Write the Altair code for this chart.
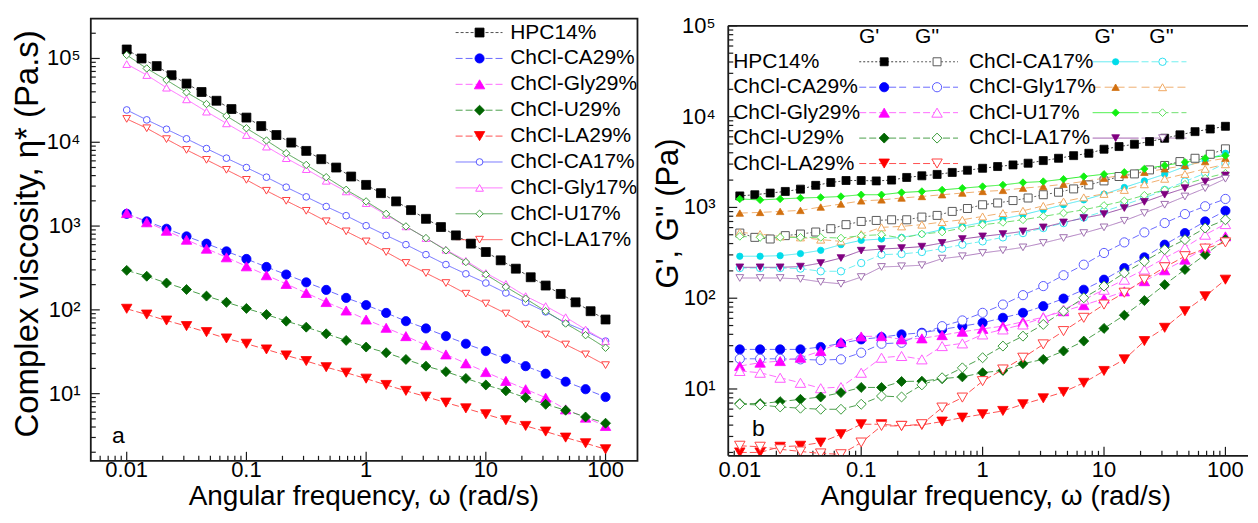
import altair as alt
import pandas as pd

FONT = "Liberation Sans"

# ---------------- frequency grids (rad/s) ----------------
freq8 = [0.01, 0.0133, 0.0178, 0.0237, 0.0316, 0.0422, 0.0562, 0.075, 0.1, 0.133, 0.178, 0.237,
         0.316, 0.422, 0.562, 0.75, 1, 1.33, 1.78, 2.37, 3.16, 4.22, 5.62, 7.5, 10, 13.3, 17.8,
         23.7, 31.6, 42.2, 56.2, 75, 100]
freq6 = [0.01, 0.0147, 0.0215, 0.0316, 0.0464, 0.0681, 0.1, 0.147, 0.215, 0.316, 0.464, 0.681,
         1, 1.47, 2.15, 3.16, 4.64, 6.81, 10, 14.7, 21.5, 31.6, 46.4, 68.1, 100]

samples = ["HPC14%", "ChCl-CA29%", "ChCl-Gly29%", "ChCl-U29%", "ChCl-LA29%",
           "ChCl-CA17%", "ChCl-Gly17%", "ChCl-U17%", "ChCl-LA17%"]

# tick labels
x_tick_vals = [0.01, 0.1, 1, 10, 100]
x_tick_labels = ["0.01", "0.1", "1", "10", "100"]
y_tick_vals = [10, 100, 1000, 10000, 100000]
y_tick_labels = ["10\u00b9", "10\u00b2", "10\u00b3", "10\u2074", "10\u2075"]

# ---------------- panel a: complex viscosity (Pa.s) ----------------
eta_HPC14 = [128000, 100000, 81100, 63100, 50100, 39800, 31300, 24900, 19700, 15600, 12200, 9910,
             7890, 6280, 4990, 3900, 3100, 2470, 1970, 1550, 1220, 973, 774, 617, 490, 390, 310,
             245, 195, 155, 123, 96.4, 76.7]
eta_CA29 = [1400, 1140, 929, 753, 617, 499, 405, 325, 264, 213, 173, 139, 114, 92.0, 73.3, 60.0,
            48.6, 39.4, 32.2, 26.1, 21.3, 17.3, 13.9, 11.3, 9.12]
eta_Gly29 = [1430, 1110, 879, 687, 537, 424, 331, 259, 204, 159, 124, 98.2, 76.7, 61.1, 48.6, 37.9,
             29.4, 23.0, 18.1, 14.2, 11.3, 8.95, 6.50, 5.18, 4.12]
eta_U29 = [296, 252, 209, 175, 146, 123, 104, 87.9, 73.3, 62.2, 51.8, 43.2, 36.0, 30.8, 25.6, 21.3,
           18.3, 15.2, 12.7, 10.8, 8.95, 7.46, 6.34, 5.27, 4.44]
eta_LA29 = [103, 87.9, 74.6, 64.0, 54.2, 45.6, 39.4, 33.7, 28.6, 24.5, 20.7, 17.8, 15.1, 12.7, 10.8,
            9.20, 7.82, 6.68, 5.68, 4.82, 4.12, 3.53, 2.99, 2.56, 2.17]
eta_CA17 = [24300, 18500, 14300, 11000, 8410, 6460, 4990, 3830, 2910, 2230, 1710, 1330, 1010, 774,
            600, 456, 347, 269, 209, 159, 123, 94.6, 70.0, 55.7, 42.4]
eta_Gly17 = [85700, 63400, 44800, 32500, 23200, 16800, 12200, 8870, 6460, 4780, 3470, 2590, 1880,
             1360, 991, 719, 522, 386, 275, 204, 146, 111, 81.8, 58.3, 42.4]
eta_U17 = [110000, 76000, 55200, 39400, 28600, 20600, 14700, 10500, 7400, 5370, 3830, 2710, 1970,
           1400, 991, 719, 513, 372, 264, 188, 136, 96.4, 68.7, 49.9, 35.3]
eta_LA17 = [19000, 14700, 10900, 8110, 6170, 4690, 3560, 2640, 2000, 1520, 1140, 865, 656, 490, 363,
            275, 209, 156, 119, 90.4, 66.8, 50.8, 38.6, 29.4, 21.9]

# ---------------- panel b: G' and G'' (Pa) ----------------
Gp_HPC14 = [1340, 1380, 1440, 1500, 1590, 1750, 1880, 1980, 1980, 1960, 2000, 2140, 2230, 2310, 2430,
            2570, 2700, 2820, 2940, 3070, 3280, 3480, 3720, 3950, 4380, 4680, 4970, 5310, 5780, 6300,
            6840, 7310, 7830]
Gpp_HPC14 = [522, 468, 449, 489, 509, 536, 583, 646, 701, 719, 731, 731, 783, 817, 904, 973, 1070,
             1120, 1190, 1270, 1380, 1470, 1600, 1770, 1960, 2190, 2340, 2590, 2900, 3200, 3480, 3850,
             4420]
Gp_CA29 = [27.3, 27.3, 27.3, 27.3, 29.0, 31.8, 35.2, 37.2, 39.9, 41.6, 45.3, 49.2, 53.6, 60.8, 69.0,
           81.7, 99.1, 124, 160, 215, 282, 389, 522, 701, 918]
Gpp_CA29 = [21.5, 21.5, 21.5, 21.2, 20.8, 21.2, 25.1, 31.5, 32.3, 40.6, 49.2, 56.9, 69.0, 85.1, 108,
            136, 179, 234, 315, 412, 531, 673, 845, 1030, 1240]
Gp_Gly29 = [17.9, 19.5, 20.3, 22.1, 26.2, 32.8, 37.9, 38.2, 35.2, 36.1, 39.2, 42.7, 46.0, 49.2, 55.0,
            61.8, 71.9, 83.8, 99.1, 119, 154, 203, 266, 357, 480]
Gpp_Gly29 = [15.8, 15.1, 13.3, 11.7, 10.2, 10.5, 15.1, 22.1, 23.1, 21.2, 29.7, 31.8, 39.9, 45.3, 51.4,
             60.8, 75.0, 96.6, 124, 160, 207, 277, 363, 501, 656]
Gp_U29 = [6.90, 6.90, 7.26, 7.69, 8.17, 9.12, 10.4, 10.4, 12.1, 12.2, 13.0, 13.6, 15.1, 16.0, 19.0,
          21.2, 26.2, 33.7, 46.5, 65.0, 94.2, 141, 207, 302, 442]
Gpp_U29 = [6.79, 6.67, 6.34, 6.14, 5.98, 5.98, 6.79, 8.37, 8.17, 11.1, 13.3, 17.1, 22.1, 29.7, 38.2,
           51.4, 71.9, 101, 136, 190, 255, 343, 442, 593, 731]
Gp_LA29 = [2.00, 2.00, 2.31, 2.37, 2.57, 3.18, 4.09, 4.09, 3.92, 4.02, 4.38, 4.84, 5.27, 5.73, 6.79,
           7.89, 9.27, 11.7, 15.8, 21.2, 33.7, 47.2, 71.9, 105, 160]
Gpp_LA29 = [2.37, 2.31, 2.17, 2.05, 1.95, 1.91, 2.57, 3.92, 3.92, 4.09, 6.24, 8.04, 12.2, 16.4, 22.1,
            31.0, 43.4, 60.8, 85.1, 115, 160, 219, 290, 352, 412]
Gp_CA17 = [290, 290, 294, 310, 337, 389, 434, 449, 468, 509, 569, 618, 684, 750, 830, 942, 1070, 1210,
           1400, 1660, 1960, 2320, 2820, 3340, 3950]
Gpp_CA17 = [215, 215, 215, 212, 198, 198, 244, 302, 307, 323, 352, 389, 423, 468, 522, 593, 673, 776,
            904, 1070, 1270, 1560, 1930, 2380, 3070]
Gp_Gly17 = [867, 881, 904, 927, 1010, 1090, 1180, 1210, 1270, 1320, 1380, 1440, 1500, 1540, 1630,
            1700, 1800, 1930, 2100, 2290, 2440, 2660, 2900, 3200, 3480]
Gpp_Gly17 = [531, 509, 480, 468, 442, 423, 509, 603, 618, 646, 690, 731, 796, 867, 918, 1040, 1160,
             1290, 1410, 1560, 1800, 2070, 2340, 2660, 2990]
Gp_U17 = [1240, 1210, 1240, 1270, 1290, 1320, 1380, 1380, 1460, 1500, 1560, 1630, 1700, 1770, 1880,
          1930, 2050, 2190, 2320, 2440, 2660, 2900, 3150, 3480, 3720]
Gpp_U17 = [480, 468, 468, 468, 468, 460, 489, 501, 460, 509, 536, 593, 644, 684, 731, 796, 867, 942,
           1050, 1180, 1360, 1560, 1800, 2100, 2380]
Gp_LA17 = [219, 219, 219, 223, 244, 277, 334, 348, 357, 370, 406, 449, 480, 509, 545, 603, 684, 764,
           845, 984, 1150, 1380, 1630, 1930, 2250]
Gpp_LA17 = [167, 167, 167, 163, 151, 144, 171, 221, 225, 231, 273, 290, 315, 337, 363, 406, 460, 522,
            603, 713, 867, 1070, 1320, 1630, 2070]

a_vals = [eta_HPC14, eta_CA29, eta_Gly29, eta_U29, eta_LA29, eta_CA17, eta_Gly17, eta_U17, eta_LA17]
b_Gp = [Gp_HPC14, Gp_CA29, Gp_Gly29, Gp_U29, Gp_LA29, Gp_CA17, Gp_Gly17, Gp_U17, Gp_LA17]
b_Gpp = [Gpp_HPC14, Gpp_CA29, Gpp_Gly29, Gpp_U29, Gpp_LA29, Gpp_CA17, Gpp_Gly17, Gpp_U17, Gpp_LA17]
freqs = [freq8] + [freq6] * 8

# ---------------- styles ----------------
shapes = ["square", "circle", "triangle-up", "diamond", "triangle-down",
          "circle", "triangle-up", "diamond", "triangle-down"]
a_fill = ["#000000", "#0000ff", "#ff00ff", "#006400", "#ff0000", "#ffffff", "#ffffff", "#ffffff", "#ffffff"]
a_stroke = ["#000000", "#0000ff", "#ff00ff", "#006400", "#ff0000", "#5a5aff", "#ff5aff", "#3c9c3c", "#ff4040"]
a_size = [80, 85, 110, 100, 110, 45, 60, 55, 60]
a_line = ["#505050", "#6b6bff", "#ff6bff", "#4ca04c", "#ff5050", "#6b6bff", "#ff6bff", "#4ca04c", "#ff5050"]
a_dash = [[3, 2], [7, 3], [7, 3], [7, 3], [7, 3], [1, 0], [1, 0], [1, 0], [1, 0]]

b_fill1 = ["#000000", "#0000ff", "#ff00ff", "#006400", "#ff0000", "#00dcea", "#d2700f", "#10f010", "#800080"]
b_stroke2 = ["#5a5a5a", "#5a5aff", "#ff5aff", "#3c9c3c", "#ff4040", "#30e0f0", "#f0a860", "#5ee05e", "#a070b0"]
b_size1 = [64, 85, 110, 100, 110, 40, 55, 55, 60]
b_size2 = [64, 85, 110, 100, 110, 55, 65, 60, 60]
b_line1 = ["#404040", "#6b6bff", "#ff6bff", "#4ca04c", "#ff5050", "#50e8f0", "#f0b070", "#30ee30", "#9a50a8"]
b_line2 = ["#606060", "#6b6bff", "#ff6bff", "#4ca04c", "#ff5050", "#70f0f0", "#f0b070", "#70e070", "#b080c0"]
b_dash1 = [[2, 2], [7, 3], [7, 3], [7, 3], [7, 3], [1, 0], [8, 4], [1, 0], [1, 0]]
b_dash2 = [[2, 2], [7, 3], [7, 3], [7, 3], [7, 3], [7, 3], [8, 4], [7, 3], [1, 0]]

INK = "#1a1a1a"
XTITLE = "Angular frequency, \u03c9 (rad/s)"
XLAB_Y = 469.0
XTITLE_Y = 496.5


def log_ticks(lo, hi):
    major, minor = [], []
    for e in range(-4, 7):
        for m in range(1, 10):
            t = m * 10.0 ** e
            if lo * 0.9999 <= t <= hi * 1.0001:
                (major if m == 1 else minor).append(t)
    return major, minor


def tick_layers(xs, ys, xdom, ydom, H):
    xM, xm = log_ticks(*xdom)
    yM, ym = log_ticks(*ydom)
    out = []
    for vals, ln in ((xM, 9), (xm, 5)):
        out.append(alt.Chart(pd.DataFrame({"t": vals})).mark_rule(color=INK, strokeWidth=1.2).encode(
            x=alt.X("t:Q", scale=xs, axis=None), y=alt.value(H), y2=alt.value(H - ln)))
    for vals, ln in ((yM, 9), (ym, 5)):
        out.append(alt.Chart(pd.DataFrame({"t": vals})).mark_rule(color=INK, strokeWidth=1.2).encode(
            y=alt.Y("t:Q", scale=ys, axis=None), x=alt.value(0), x2=alt.value(ln)))
    return out


def axis_text_layers(xs, ys, xlab_y, ylab_x, xtitle_pos, ytitle_pos, ytitle, ytitle_size):
    out = []
    out.append(alt.Chart(pd.DataFrame({"t": x_tick_vals, "lab": x_tick_labels})).mark_text(
        fontSize=22, font=FONT, color="black", align="center", baseline="middle").encode(
        x=alt.X("t:Q", scale=xs, axis=None), y=alt.value(xlab_y), text="lab:N"))
    out.append(alt.Chart(pd.DataFrame({"t": y_tick_vals, "lab": y_tick_labels})).mark_text(
        fontSize=22, font=FONT, color="black", align="right", baseline="middle").encode(
        y=alt.Y("t:Q", scale=ys, axis=None), x=alt.value(ylab_x), text="lab:N"))
    out.append(alt.Chart(pd.DataFrame({"t": [XTITLE]})).mark_text(
        fontSize=28, font=FONT, color="black", align="center", baseline="middle").encode(
        x=alt.value(xtitle_pos[0]), y=alt.value(xtitle_pos[1]), text="t:N"))
    out.append(alt.Chart(pd.DataFrame({"t": [ytitle]})).mark_text(
        fontSize=ytitle_size, font=FONT, color="black", align="center", baseline="middle", angle=270).encode(
        x=alt.value(ytitle_pos[0]), y=alt.value(ytitle_pos[1]), text="t:N"))
    return out


def line_layer(fr, vals, xs, ys, color, dash):
    return alt.Chart(pd.DataFrame({"w": fr, "v": vals})).mark_line(
        color=color, strokeDash=dash, strokeWidth=1, clip=True).encode(
        x=alt.X("w:Q", scale=xs, axis=None), y=alt.Y("v:Q", scale=ys, axis=None), order="w:Q")


def point_layer(fr, vals, xs, ys, shape, fill, stroke, size, sw, clip):
    return alt.Chart(pd.DataFrame({"w": fr, "v": vals})).mark_point(
        shape=shape, filled=True, fill=fill, stroke=stroke, size=size, strokeWidth=sw,
        opacity=1, clip=clip).encode(
        x=alt.X("w:Q", scale=xs, axis=None), y=alt.Y("v:Q", scale=ys, axis=None))


def seg_layer(x1, x2, y, xs, ys, color, dash):
    return alt.Chart(pd.DataFrame({"x1": [x1], "x2": [x2], "y": [y]})).mark_rule(
        color=color, strokeDash=dash, strokeWidth=1).encode(
        x=alt.X("x1:Q", scale=xs, axis=None), x2="x2:Q", y=alt.Y("y:Q", scale=ys, axis=None))


ONE = pd.DataFrame({"z": [0]})

# =============== PANEL A ===============
LA, TA, WA, HA = 92.3, 16.7, 548.0, 443.3
AX0, APX, AY1, APY = -2.30, 120.0, 5.476, 84.0


def ax(px):
    return 10 ** (AX0 + (px - LA) / APX)


def ay(py):
    return 10 ** (AY1 - (py - TA) / APY)


xdom_a = [ax(LA), ax(LA + WA)]
ydom_a = [ay(TA + HA), ay(TA)]
xs_a = alt.Scale(type="log", domain=xdom_a, nice=False)
ys_a = alt.Scale(type="log", domain=ydom_a, nice=False)

leg_y_a = [30.7 + 25.95 * i for i in range(len(samples))]
lines_a, segs_a, pts_a = [], [], []
for i, name in enumerate(samples):
    lines_a.append(line_layer(freqs[i], a_vals[i], xs_a, ys_a, a_line[i], a_dash[i]))
    segs_a.append(seg_layer(ax(458), ax(505), ay(leg_y_a[i]), xs_a, ys_a, a_line[i], a_dash[i]))
    sw = 1.0 if a_fill[i] == "#ffffff" else 0.8
    pts_a.append(point_layer(list(freqs[i]) + [ax(482)], list(a_vals[i]) + [ay(leg_y_a[i])],
                             xs_a, ys_a, shapes[i], a_fill[i], a_stroke[i], a_size[i], sw, False))

leg_a = pd.DataFrame({"s": samples, "tx": [ax(512.7)] * 9, "y": [ay(v) for v in leg_y_a]})
texts_a = alt.Chart(leg_a).mark_text(align="left", baseline="middle", fontSize=21, font=FONT,
                                     color="black").encode(
    x=alt.X("tx:Q", scale=xs_a, axis=None), y=alt.Y("y:Q", scale=ys_a, axis=None), text="s:N")

frame_a = alt.Chart(ONE).mark_rect(fillOpacity=0, stroke=INK, strokeWidth=1.8).encode(
    x=alt.value(0), x2=alt.value(WA), y=alt.value(0), y2=alt.value(HA))
lab_a = alt.Chart(pd.DataFrame({"t": ["a"]})).mark_text(fontSize=23, font=FONT, color="black").encode(
    x=alt.value(120 - LA), y=alt.value(435 - TA), text="t:N")

axes_a = axis_text_layers(xs_a, ys_a, XLAB_Y - TA, 82 - LA, (366 - LA, XTITLE_Y - TA), (29 - LA, 232.5 - TA),
                          "Complex viscosity, \u03b7* (Pa.s)", 33)

panel_a = alt.layer(*tick_layers(xs_a, ys_a, xdom_a, ydom_a, HA), *lines_a, *segs_a, *pts_a,
                    texts_a, lab_a, *axes_a, frame_a).properties(width=WA, height=HA)

# =============== PANEL B ===============
LB, TB, WB = 731.7, 24.0, 521.0
BOT_B = 455.0
HBV = BOT_B - TA
BX0, BPX, BY1, BPY = -2.095, 121.7, 5.0, 91.0


def bx(px):
    return 10 ** (BX0 + (px - LB) / BPX)


def by(py):
    return 10 ** (BY1 - (py - TB) / BPY)


xdom_b = [bx(LB), bx(LB + WB)]
ydom_b = [by(BOT_B), by(TB)]
xs_b = alt.Scale(type="log", domain=xdom_b, nice=False)
ys_b = alt.Scale(type="log", domain=ydom_b, nice=False, range=[HBV, TB - TA])

lines_b, segs_b, pts_b = [], [], []
txt_rows = []
for i, name in enumerate(samples):
    c = 0 if i < 5 else 1
    r = i if i < 5 else i - 5
    yy = by(60 + 25.5 * r)
    tx = 736.7 if c == 0 else 973.0
    m1, m2 = (888.0, 941.0) if c == 0 else (1120.0, 1167.0)
    s1 = (863.0, 912.0) if c == 0 else (1097.0, 1143.0)
    s2 = (917.0, 962.0) if c == 0 else (1146.0, 1191.0)
    txt_rows.append({"label": name, "tx": bx(tx), "ty": yy})

    lines_b.append(line_layer(freqs[i], b_Gp[i], xs_b, ys_b, b_line1[i], b_dash1[i]))
    lines_b.append(line_layer(freqs[i], b_Gpp[i], xs_b, ys_b, b_line2[i], b_dash2[i]))
    segs_b.append(seg_layer(bx(s1[0]), bx(s1[1]), yy, xs_b, ys_b, b_line1[i], b_dash1[i]))
    segs_b.append(seg_layer(bx(s2[0]), bx(s2[1]), yy, xs_b, ys_b, b_line2[i], b_dash2[i]))
    pts_b.append(point_layer(list(freqs[i]) + [bx(m1)], list(b_Gp[i]) + [yy], xs_b, ys_b,
                             shapes[i], b_fill1[i], b_fill1[i], b_size1[i], 0.8, True))
    pts_b.append(point_layer(list(freqs[i]) + [bx(m2)], list(b_Gpp[i]) + [yy], xs_b, ys_b,
                             shapes[i], "#ffffff", b_stroke2[i], b_size2[i], 1.0, True))

texts_b = alt.Chart(pd.DataFrame(txt_rows)).mark_text(
    align="left", baseline="middle", fontSize=21, font=FONT, color="black").encode(
    x=alt.X("tx:Q", scale=xs_b, axis=None), y=alt.Y("ty:Q", scale=ys_b, axis=None), text="label:N")
heads_b = alt.Chart(pd.DataFrame({"label": ["G'", "G''", "G'", "G''"],
                                  "tx": [bx(873), bx(931), bx(1109), bx(1166)],
                                  "ty": [by(35)] * 4})).mark_text(
    align="center", baseline="middle", fontSize=21, font=FONT, color="black").encode(
    x=alt.X("tx:Q", scale=xs_b, axis=None), y=alt.Y("ty:Q", scale=ys_b, axis=None), text="label:N")

# frame: top, left and bottom edges (the right edge lies beyond the picture)
frame_b = [
    alt.Chart(ONE).mark_rule(color=INK, strokeWidth=1.8).encode(
        x=alt.value(0), x2=alt.value(WB), y=alt.value(TB - TA)),
    alt.Chart(ONE).mark_rule(color=INK, strokeWidth=1.8).encode(
        x=alt.value(0), x2=alt.value(WB), y=alt.value(HBV)),
    alt.Chart(ONE).mark_rule(color=INK, strokeWidth=1.8).encode(
        x=alt.value(0), y=alt.value(TB - TA), y2=alt.value(HBV)),
]
lab_b = alt.Chart(pd.DataFrame({"t": ["b"]})).mark_text(fontSize=23, font=FONT, color="black").encode(
    x=alt.value(762 - LB), y=alt.value(428 - TA), text="t:N")

axes_b = axis_text_layers(xs_b, ys_b, XLAB_Y - TA, 719 - LB, (1000 - LB, XTITLE_Y - TA),
                          (672.5 - LB, 212 - TA), "G', G'' (Pa)", 31)

panel_b = alt.layer(*tick_layers(xs_b, ys_b, xdom_b, ydom_b, HBV), *lines_b, *segs_b, *pts_b,
                    texts_b, heads_b, lab_b, *axes_b, *frame_b).properties(width=WB, height=HBV)

chart = alt.hconcat(panel_a, panel_b, spacing=13).properties(
    padding={"left": 3, "top": 5, "right": 0, "bottom": 0}
).configure_view(stroke="transparent").configure_text(font=FONT)

chart.save("out.html", embed_options={"renderer": "svg", "actions": False})
